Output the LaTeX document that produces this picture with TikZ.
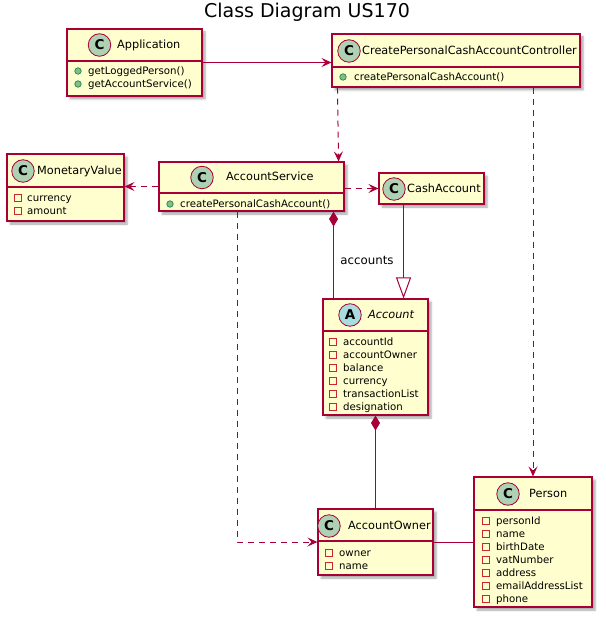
\documentclass[tikz,border=0pt]{standalone}
\usepackage{fontspec}
\setmainfont{DejaVu Sans}
\usetikzlibrary{arrows.meta,shadows.blur}

\definecolor{umlred}{HTML}{A80036}
\definecolor{umlyellow}{HTML}{FEFECE}
\definecolor{classgreen}{HTML}{ADD1B2}
\definecolor{abstractblue}{HTML}{A9DCDF}
\definecolor{publicgreen}{HTML}{84BE84}
\definecolor{publicdark}{HTML}{038048}
\definecolor{privatered}{HTML}{C82930}

\tikzset{
  classbox/.style={draw=umlred, fill=umlyellow, line width=1.1pt, inner sep=0pt,
    blur shadow={shadow xshift=3pt, shadow yshift=-3pt, shadow blur steps=5, shadow opacity=35}},
  classname/.style={anchor=west, inner sep=0pt, text height=1.6ex, text depth=0.4ex, font=\fontsize{11.3}{13}\selectfont},
  member/.style={anchor=west, inner sep=0pt, text height=1.6ex, text depth=0.4ex, font=\fontsize{10.2}{12}\selectfont},
  classicon/.style={circle, draw=umlred, fill=classgreen, minimum size=22.5pt, inner sep=0pt, line width=0.8pt, font=\fontsize{13.5}{14}\selectfont\bfseries},
  abstracticon/.style={classicon, fill=abstractblue},
  publicicon/.style={circle, draw=publicdark, fill=publicgreen, minimum size=6.5pt, inner sep=0pt, line width=0.6pt},
  privateicon/.style={rectangle, draw=privatered, minimum size=7pt, inner sep=0pt, line width=0.8pt},
  separator/.style={draw=umlred, line width=1.1pt},
  umlline/.style={draw=umlred, line width=1pt},
  association/.style={umlline, -{Stealth[length=10pt,width=9pt,inset=4pt]}},
  dependency/.style={association, dash pattern=on 6pt off 5pt},
  composition/.style={umlline, {Diamond[length=15pt,width=9pt]}-},
  generalization/.style={umlline, -{Triangle[open,length=21pt,width=15pt,fill=white]}}
}

\begin{document}
\begin{tikzpicture}[x=1pt,y=-1pt]
    \path[use as bounding box] (0,0) rectangle (605,620);

    \node (title) at (307,12) [font=\fontsize{19}{22}\selectfont] {Class Diagram US170};

    % Application
    \node (app) at (134.5,62.5) [classbox, minimum width=135pt, minimum height=67pt] {};
    \draw[separator] (app.west |- 0,61) -- (app.east |- 0,61);
    \node (app-icon) at (99.5,45) [classicon] {C};
    \node (app-name) at (117,45) [classname] {Application};
    \node (app-logged-vis) at (78,71) [publicicon] {};
    \node (app-logged) at (88,71) [member] {getLoggedPerson()};
    \node (app-service-vis) at (78,84) [publicicon] {};
    \node (app-service) at (88,84) [member] {getAccountService()};

    % CreatePersonalCashAccountController
    \node (ctrl) at (456,60.5) [classbox, minimum width=248pt, minimum height=53pt] {};
    \draw[separator] (ctrl.west |- 0,67) -- (ctrl.east |- 0,67);
    \node (ctrl-icon) at (349,51) [classicon] {C};
    \node (ctrl-name) at (362,51) [classname] {CreatePersonalCashAccountController};
    \node (ctrl-create-vis) at (343,77) [publicicon] {};
    \node (ctrl-create) at (354,77) [member] {createPersonalCashAccount()};

    % MonetaryValue
    \node (money) at (65.5,187.5) [classbox, minimum width=117pt, minimum height=67pt] {};
    \draw[separator] (money.west |- 0,187) -- (money.east |- 0,187);
    \node (money-icon) at (23,171) [classicon] {C};
    \node (money-name) at (37,171) [classname] {MonetaryValue};
    \node (money-currency-vis) at (18,198) [privateicon] {};
    \node (money-currency) at (27,198) [member] {currency};
    \node (money-amount-vis) at (18,211) [privateicon] {};
    \node (money-amount) at (27,211) [member] {amount};

    % AccountService
    \node (service) at (251.5,186.5) [classbox, minimum width=185pt, minimum height=49pt] {};
    \draw[separator] (service.west |- 0,193) -- (service.east |- 0,193);
    \node (service-icon) at (202,177.5) [classicon] {C};
    \node (service-name) at (226,177.5) [classname] {AccountService};
    \node (service-create-vis) at (170,204) [publicicon] {};
    \node (service-create) at (180,204) [member] {createPersonalCashAccount()};

    % CashAccount
    \node (cash) at (431.5,188.5) [classbox, minimum width=105pt, minimum height=31pt] {};
    \node (cash-icon) at (394,189) [classicon] {C};
    \node (cash-name) at (407,189) [classname] {CashAccount};

    % Account
    \node (account) at (375.5,357) [classbox, minimum width=105pt, minimum height=116pt] {};
    \draw[separator] (account.west |- 0,331) -- (account.east |- 0,331);
    \node (account-icon) at (350,315) [abstracticon] {A};
    \node (account-name) at (368,315) [classname, font=\fontsize{11.3}{13}\selectfont\itshape] {Account};
    \node (account-id-vis) at (333,342) [privateicon] {};
    \node (account-id) at (343,342) [member] {accountId};
    \node (account-owner-vis) at (333,355) [privateicon] {};
    \node (account-owner) at (343,355) [member] {accountOwner};
    \node (account-balance-vis) at (333,368) [privateicon] {};
    \node (account-balance) at (343,368) [member] {balance};
    \node (account-currency-vis) at (333,381) [privateicon] {};
    \node (account-currency) at (343,381) [member] {currency};
    \node (account-list-vis) at (333,394) [privateicon] {};
    \node (account-list) at (343,394) [member] {transactionList};
    \node (account-designation-vis) at (333,407) [privateicon] {};
    \node (account-designation) at (343,407) [member] {designation};

    % AccountOwner
    \node (owner) at (375.5,542) [classbox, minimum width=115pt, minimum height=66pt] {};
    \draw[separator] (owner.west |- 0,541) -- (owner.east |- 0,541);
    \node (owner-icon) at (329,526) [classicon] {C};
    \node (owner-name) at (348,526) [classname] {AccountOwner};
    \node (owner-owner-vis) at (329,553) [privateicon] {};
    \node (owner-owner) at (339,553) [member] {owner};
    \node (owner-name-vis) at (329,566) [privateicon] {};
    \node (owner-name) at (339,566) [member] {name};

    % Person
    \node (person) at (533,542) [classbox, minimum width=118pt, minimum height=130pt] {};
    \draw[separator] (person.west |- 0,510) -- (person.east |- 0,510);
    \node (person-icon) at (508,494) [classicon] {C};
    \node (person-name) at (529,494) [classname] {Person};
    \node (person-id-vis) at (486,521) [privateicon] {};
    \node (person-id) at (496,521) [member] {personId};
    \node (person-name-vis) at (486,534) [privateicon] {};
    \node (person-fullname) at (496,534) [member] {name};
    \node (person-birth-vis) at (486,547) [privateicon] {};
    \node (person-birth) at (496,547) [member] {birthDate};
    \node (person-vat-vis) at (486,560) [privateicon] {};
    \node (person-vat) at (496,560) [member] {vatNumber};
    \node (person-address-vis) at (486,573) [privateicon] {};
    \node (person-address) at (496,573) [member] {address};
    \node (person-email-vis) at (486,586) [privateicon] {};
    \node (person-email) at (496,586) [member] {emailAddressList};
    \node (person-phone-vis) at (486,599) [privateicon] {};
    \node (person-phone) at (496,599) [member] {phone};

    % relations
    \draw[association] (app.east) -- (app.east -| ctrl.west);
    \draw[dependency] ([xshift=6pt]ctrl.south west) -- ([xshift=-6pt]service.north east);
    \draw[dependency] (ctrl.south -| person.north) -- (person.north);
    \draw[dependency] (service.west) -- (money.east |- service.west);
    \draw[dependency] (service.east |- cash.west) -- (cash.west);
    \draw[composition] ([xshift=-11pt]service.south east) -- ([xshift=-11pt]service.south east |- account.north)
      node[pos=0.56, anchor=west, xshift=3pt, font=\fontsize{11.8}{13}\selectfont] {accounts};
    \draw[generalization] ([xshift=-25pt]account.north east |- cash.south) -- ([xshift=-25pt]account.north east);
    \draw[composition] (account.south) -- (owner.north);
    \draw[umlline] (owner.east) -- (owner.east -| person.west);
    \draw[dependency] ([xshift=79pt]service.south west) |- (owner.west);
  \end{tikzpicture}
\end{document}
